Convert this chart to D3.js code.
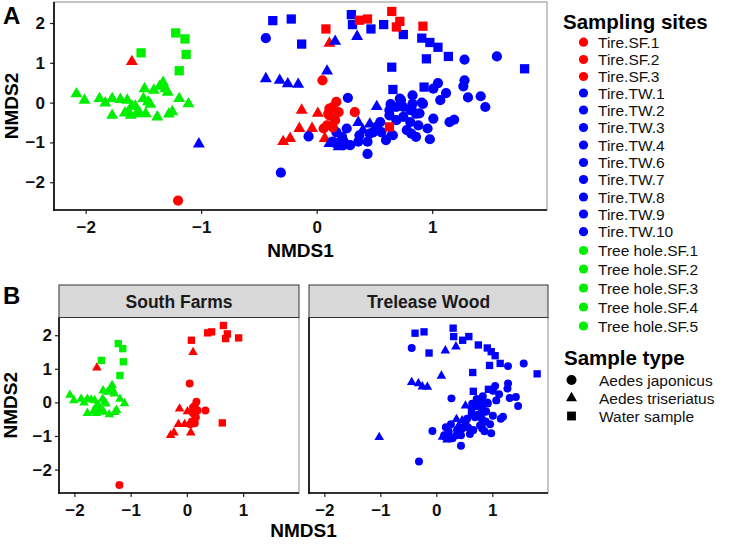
<!DOCTYPE html>
<html><head><meta charset="utf-8">
<script src="https://cdn.jsdelivr.net/npm/d3@7"></script>
<style>body{margin:0;background:#fff}svg{display:block;font-family:"Liberation Sans",Arial,sans-serif}</style>
</head><body><svg id="c" width="733" height="545"></svg>
<script>
// ---------- data (NMDS1, NMDS2) ----------
const redCircles = [[-1.20,-2.46],[0.05,0.56],[0.11,-0.15],[0.17,0.02],[0.11,-0.32],[0.16,-0.44],[0.09,-0.57],[0.19,-0.24],[0.33,-0.24],[0.06,-0.65],[0.14,-0.62],[0.10,-0.28],[0.14,-0.11]];
const redTriangles = [[-1.60,1.03],[0.11,1.49],[-0.13,-0.19],[-0.15,-0.65],[-0.23,-0.90],[-0.29,-0.98],[-0.04,-0.65],[0.01,-0.27],[0.07,-0.90]];
const redSquares = [[0.08,1.85],[0.37,2.07],[0.44,2.10],[0.65,2.29],[0.72,2.04],[0.69,1.90],[0.92,1.92],[0.63,-0.61]];
const blueCircles = [[-0.44,1.62],[-0.31,-1.76],[-0.07,-0.85],[0.27,0.12],[0.44,-1.29],[0.64,-0.04],[0.83,0.18],[0.92,-0.03],[1.05,0.49],[1.01,0.35],[1.12,0.24],[1.07,0.06],[1.28,1.08],[1.56,1.16],[1.28,0.56],[1.27,0.41],[1.31,0.13],[1.42,0.16],[1.46,-0.11],[1.01,-0.40],[1.15,-0.49],[1.19,-0.43],[0.96,-0.65],[0.98,-0.92],[0.86,-0.86],[0.78,-0.69],[0.75,-0.36],[0.81,-0.19],[0.86,-0.28],[0.69,-0.44],[0.63,-0.32],[0.56,-0.74],[0.52,-0.61],[0.46,-0.78],[0.36,-0.98],[0.26,-0.65],[0.22,-0.86],[0.16,-1.02],[0.29,-1.07],[0.60,-0.94],[0.81,-0.49],[0.88,-0.57],[0.75,-0.11],[0.69,-0.11],[0.73,0.06],[0.17,-0.74],[0.14,-0.98],[0.23,-1.07],[0.44,-0.98],[0.55,-0.49],[0.49,-0.74],[0.37,-0.82],[0.72,0.10],[0.82,-0.78],[0.66,-0.82],[0.89,-0.27],[0.91,0.00],[0.83,-0.03],[0.82,-0.15],[0.63,-0.19]];
const blueTriangles = [[-1.02,-1.04],[-0.44,0.60],[-0.32,0.56],[-0.25,0.47],[-0.16,0.46],[0.16,1.54],[0.35,1.66],[0.09,0.79],[0.52,-0.10],[0.36,-0.50],[0.46,-0.54],[0.40,-0.69],[0.63,-0.84],[0.11,-1.03],[0.19,-1.11],[0.25,-0.98]];
const blueSquares = [[-0.38,2.06],[-0.22,2.10],[-0.13,1.47],[0.30,2.21],[0.31,1.96],[0.47,1.85],[0.58,1.96],[0.75,1.71],[0.91,1.62],[0.98,1.51],[1.05,1.39],[0.95,1.10],[1.14,1.16],[1.80,0.85],[0.65,0.89],[0.66,0.33],[0.93,0.39]];
const greenSquares = [[-1.52,1.25],[-1.22,1.75],[-1.14,1.60],[-1.13,1.21],[-1.19,0.80]];
const greenTriangles = [[-2.08,0.22],[-2.01,0.06],[-1.88,0.10],[-1.83,-0.01],[-1.77,0.10],[-1.77,-0.32],[-1.70,0.08],[-1.64,0.06],[-1.63,-0.23],[-1.61,-0.32],[-1.60,-0.09],[-1.57,-0.09],[-1.55,-0.23],[-1.50,0.10],[-1.49,0.35],[-1.48,-0.28],[-1.46,0.02],[-1.44,-0.04],[-1.41,0.31],[-1.38,-0.36],[-1.36,0.41],[-1.33,0.51],[-1.31,0.35],[-1.29,0.26],[-1.28,-0.29],[-1.25,-0.23],[-1.19,0.10],[-1.11,-0.03],[-1.53,-0.28],[-1.66,-0.26]];

const siteNames = ["Tire.SF.1","Tire.SF.2","Tire.SF.3","Tire.TW.1","Tire.TW.2","Tire.TW.3","Tire.TW.4","Tire.TW.6","Tire.TW.7","Tire.TW.8","Tire.TW.9","Tire.TW.10","Tree hole.SF.1","Tree hole.SF.2","Tree hole.SF.3","Tree hole.SF.4","Tree hole.SF.5"];
const siteGroup = ["red","red","red","blue","blue","blue","blue","blue","blue","blue","blue","blue","green","green","green","green","green"];
const typeNames = ["Aedes japonicus","Aedes triseriatus","Water sample"];
const typeShapes = ["circle","triangle","square"];
const facetNames = ["South Farms","Trelease Wood"];
const xTicks = [-2,-1,0,1];
const yTicks = [-2,-1,0,1,2];

// ---------- styling ----------
const COL = {red:"#ff0000", blue:"#0000ff", green:"#00ee00"};
const FONT_TICK = 17, FONT_TITLE = 19;
const symType = {circle:d3.symbolCircle, triangle:d3.symbolTriangle, square:d3.symbolSquare};
const sizeA = {circle:82, triangle:62, square:86};
const sizeB = {circle:50, triangle:40, square:54};

// flatten into points (draw order)
const series = [
  {g:"red", s:"triangle", d:redTriangles, f:0},
  {g:"blue", s:"circle", d:blueCircles, f:1},
  {g:"blue", s:"triangle", d:blueTriangles, f:1},
  {g:"blue", s:"square", d:blueSquares, f:1},
  {g:"red", s:"circle", d:redCircles, f:0},
  {g:"red", s:"square", d:redSquares, f:0},
  {g:"green", s:"triangle", d:greenTriangles, f:0},
  {g:"green", s:"square", d:greenSquares, f:0}
];
const pts = series.flatMap(S => S.d.map(p => ({x:p[0], y:p[1], g:S.g, s:S.s, f:S.f})));

function expand(ext){ const r = ext[1]-ext[0]; return [ext[0]-0.05*r, ext[1]+0.05*r]; }
const xDom = expand(d3.extent(pts, d=>d.x));
const yDom = expand(d3.extent(pts, d=>d.y));

const svg = d3.select("#c");

function panel(box, data, sizes, opt){
  const x = d3.scaleLinear().domain(xDom).range([box.l, box.r]);
  const y = d3.scaleLinear().domain(yDom).range([box.b, box.t]);
  const g = svg.append("g");
  g.append("rect").attr("x",box.l).attr("y",box.t).attr("width",box.r-box.l).attr("height",box.b-box.t)
    .attr("fill","#fff").attr("stroke","#8c8c8c").attr("stroke-width",1);
  g.selectAll("path.pt").data(data).join("path").attr("class","pt")
    .attr("d", d => d3.symbol().type(symType[d.s]).size(sizes[d.s])())
    .attr("transform", d => `translate(${x(d.x)},${y(d.y)})`)
    .attr("fill", d => COL[d.g]);
  const ax = g.append("g").attr("transform",`translate(0,${box.b})`)
    .call(d3.axisBottom(x).tickValues(xTicks).tickSize(4).tickPadding(opt.xpad).tickFormat(d3.format("d")));
  ax.select(".domain").remove();
  ax.selectAll("line").attr("stroke","#222").attr("stroke-width",1.2);
  ax.selectAll("text").attr("font-size",FONT_TICK).attr("font-weight","bold").attr("fill","#111").attr("font-family",null);
  if (opt.yAxis){
    const ay = g.append("g").attr("transform",`translate(${box.l},0)`)
      .call(d3.axisLeft(y).tickValues(yTicks).tickSize(4).tickPadding(opt.ypad).tickFormat(d3.format("d")));
    ay.select(".domain").remove();
    ay.selectAll("line").attr("stroke","#222").attr("stroke-width",1.2);
    ay.selectAll("text").attr("font-size",FONT_TICK).attr("font-weight","bold").attr("fill","#111").attr("font-family",null);
  }
  g.append("line").attr("x1",box.l).attr("x2",box.l).attr("y1",box.t).attr("y2",box.b+0.75).attr("stroke","#000").attr("stroke-width",1.6);
  g.append("line").attr("x1",box.l-0.75).attr("x2",box.r).attr("y1",box.b).attr("y2",box.b).attr("stroke","#000").attr("stroke-width",1.6);
  return g;
}

// ---------- Panel A ----------
const boxA = {l:54, r:547, t:2, b:210};
panel(boxA, pts, sizeA, {yAxis:true, xpad:7, ypad:5});
svg.append("text").attr("x",(boxA.l+boxA.r)/2).attr("y",257).attr("text-anchor","middle")
  .attr("font-size",FONT_TITLE).attr("font-weight","bold").text("NMDS1");
svg.append("text").attr("transform",`translate(18,${(boxA.t+boxA.b)/2}) rotate(-90)`).attr("text-anchor","middle")
  .attr("font-size",FONT_TITLE).attr("font-weight","bold").text("NMDS2");
svg.append("text").attr("x",3).attr("y",24).attr("font-size",24).attr("font-weight","bold").text("A");

// ---------- Panel B ----------
const stripTop = 285, plotTop = 317.5, plotBot = 493;
const boxesB = [{l:59, r:299, t:plotTop, b:plotBot},{l:309, r:548, t:plotTop, b:plotBot}];
facetNames.forEach((name,i) => {
  const bx = boxesB[i];
  panel(bx, pts.filter(p => p.f === i), sizeB, {yAxis:i===0, xpad:7, ypad:3});
  svg.append("rect").attr("x",bx.l).attr("y",stripTop).attr("width",bx.r-bx.l).attr("height",plotTop-stripTop)
    .attr("fill","#d9d9d9").attr("stroke","#333").attr("stroke-width",1);
  svg.append("text").attr("x",(bx.l+bx.r)/2).attr("y",(stripTop+plotTop)/2+6.3).attr("text-anchor","middle")
    .attr("font-size",17.5).attr("font-weight","bold").attr("fill","#1a1a1a").text(name);
});
svg.append("text").attr("x",(boxesB[0].l+boxesB[1].r)/2).attr("y",537).attr("text-anchor","middle")
  .attr("font-size",FONT_TITLE).attr("font-weight","bold").text("NMDS1");
svg.append("text").attr("transform",`translate(17,${(plotTop+plotBot)/2}) rotate(-90)`).attr("text-anchor","middle")
  .attr("font-size",FONT_TITLE).attr("font-weight","bold").text("NMDS2");
svg.append("text").attr("x",3).attr("y",304).attr("font-size",24).attr("font-weight","bold").text("B");

// ---------- Legends ----------
const legRowY = [42.2,59.5,76.5,93,110,127.5,145,162.5,179.5,197,214,231.7,250.5,269,288,307,326];
const leg = svg.append("g");
leg.append("text").attr("x",563).attr("y",28.5).attr("font-size",20.5).attr("font-weight","bold").text("Sampling sites");
siteNames.forEach((n,i) => {
  leg.append("circle").attr("cx",583.5).attr("cy",legRowY[i]).attr("r",4.6).attr("fill",COL[siteGroup[i]]);
  leg.append("text").attr("x",598).attr("y",legRowY[i]+5.6).attr("font-size",15.5).attr("fill","#111").text(n);
});
leg.append("text").attr("x",564).attr("y",364.5).attr("font-size",20.5).attr("font-weight","bold").text("Sample type");
typeNames.forEach((n,i) => {
  const yy = 380 + i*18;
  leg.append("path").attr("d", d3.symbol().type(symType[typeShapes[i]]).size([78,52,78][i])())
    .attr("transform",`translate(571.5,${yy})`).attr("fill","#000");
  leg.append("text").attr("x",599).attr("y",yy+5.6).attr("font-size",15.5).attr("fill","#111").text(n);
});
</script></body></html>
